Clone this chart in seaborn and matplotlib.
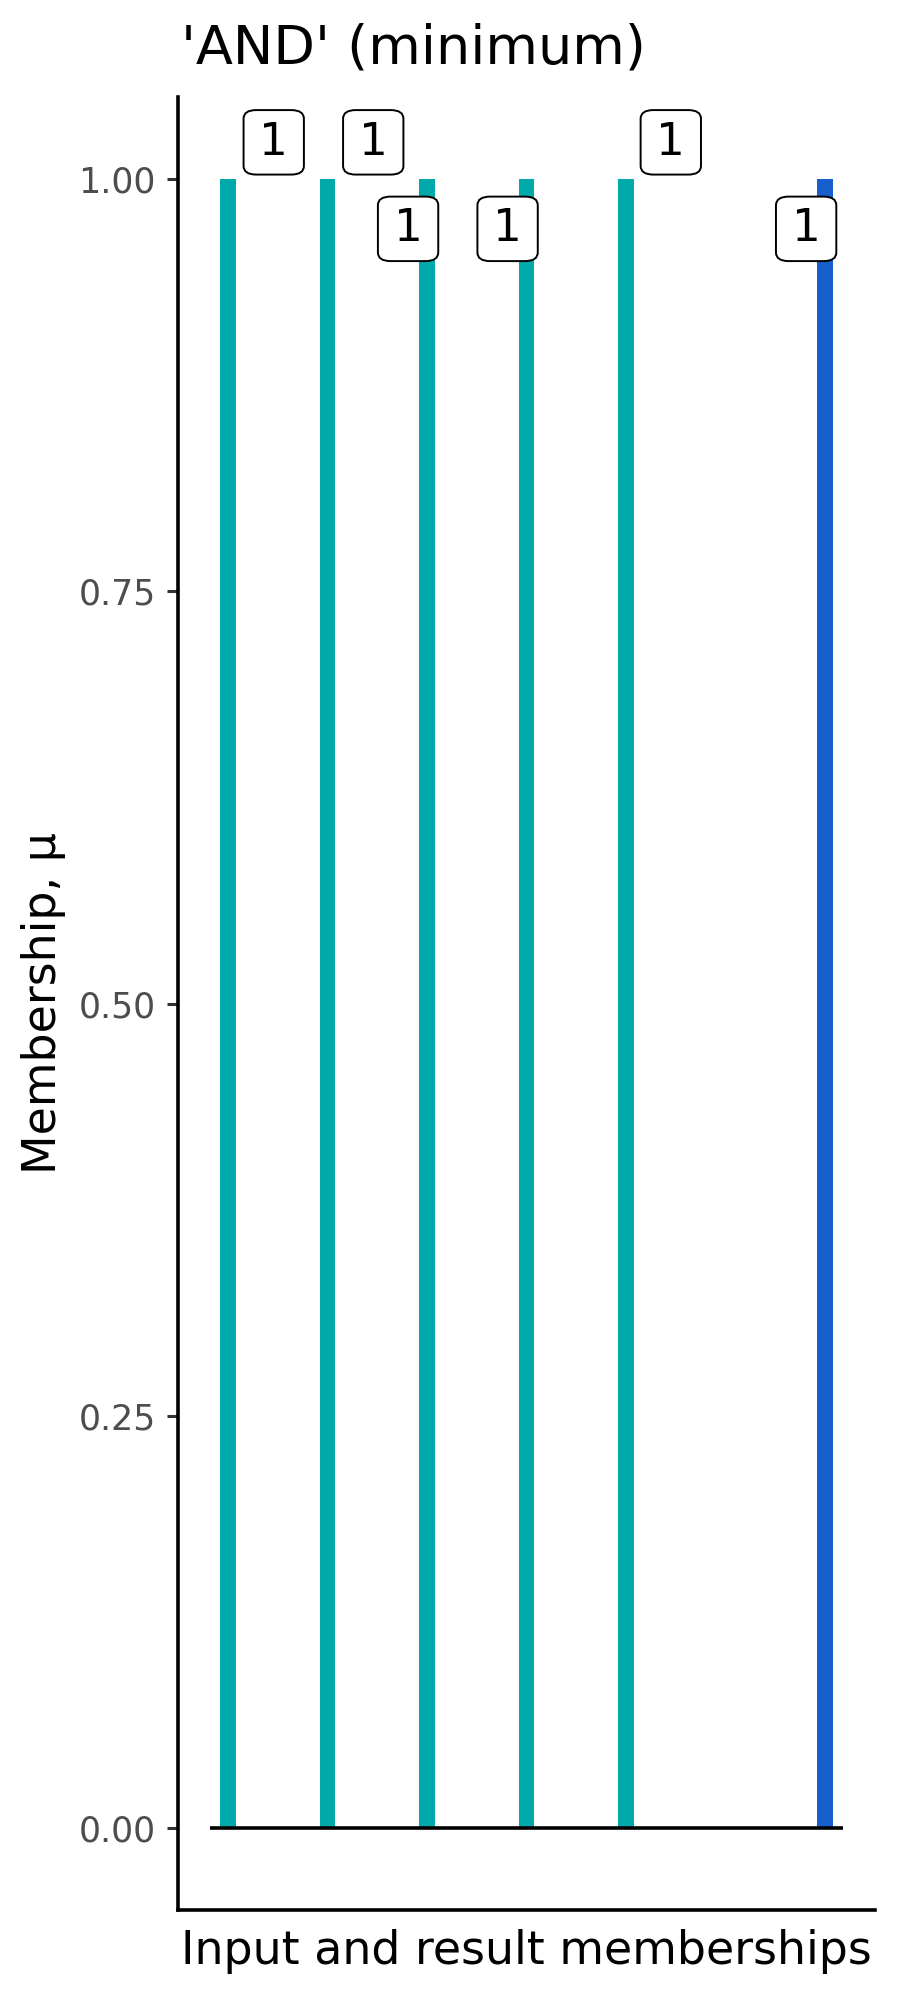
import matplotlib
import matplotlib.pyplot as plt
import pandas as pd
import seaborn as sns

matplotlib.use("Agg")

# membership values, one per input plus the combined result
positions = [1, 2, 3, 4, 5, 7]
memberships = [1.0, 1.0, 1.0, 1.0, 1.0, 1.0]
kinds = ["input", "input", "input", "input", "input", "result"]
y_ticks = [0.0, 0.25, 0.5, 0.75, 1.0]

# repel-style label offsets (data units) so boxes don't overlap
label_dx = [0.46, 0.46, -0.19, -0.19, 0.45, -0.19]
label_dy = [0.0225, 0.0225, -0.030, -0.030, 0.0225, -0.030]

palette = {"input": "#00AAAA", "result": "#1560CC"}

df = pd.DataFrame({"pos": positions, "mu": memberships, "kind": kinds})

sns.set_theme(style="ticks")
plt.rcParams["font.family"] = ["DejaVu Sans"]
plt.rcParams["text.color"] = "black"
plt.rcParams["axes.labelcolor"] = "black"

fig = plt.figure(figsize=(9, 20), dpi=100)
ax = fig.add_axes([0.198, 0.045, 0.774, 0.9065])

sns.barplot(
    data=df, x="pos", y="mu", hue="kind", palette=palette, native_scale=True,
    width=0.16, saturation=1, linewidth=0, legend=False, dodge=False, ax=ax,
)
ax.hlines(0, 0.82, 7.18, color="black", linewidth=2.6, zorder=5)

for x, v, dx, dy in zip(positions, memberships, label_dx, label_dy):
    ax.text(
        x + dx, v + dy, f"{v:g}", ha="center", va="center", fontsize=32.5, zorder=6,
        color="black",
        bbox=dict(boxstyle="round,pad=0.35,rounding_size=0.28", fc="white", ec="black",
                  lw=1.4, mutation_aspect=0.68),
    )

ax.set_xlim(0.5, 7.5)
ax.set_ylim(-0.05, 1.05)
ax.set_xticks([])
ax.set_yticks(y_ticks)
ax.set_yticklabels([f"{t:.2f}" for t in y_ticks])
ax.tick_params(axis="y", length=8, width=2.2, color="#333333", labelsize=25,
               labelcolor="#4D4D4D", pad=8)
for side in ["top", "right"]:
    ax.spines[side].set_visible(False)
for side in ["left", "bottom"]:
    ax.spines[side].set_linewidth(2.6)
    ax.spines[side].set_color("black")

ax.set_xlabel("Input and result memberships", fontsize=33, labelpad=14)
ax.set_ylabel("Membership, μ", fontsize=33, labelpad=9)
fig.text(0.201, 0.968, "'AND' (minimum)", fontsize=39, ha="left", va="baseline")

fig.savefig("out.png", dpi=100)
